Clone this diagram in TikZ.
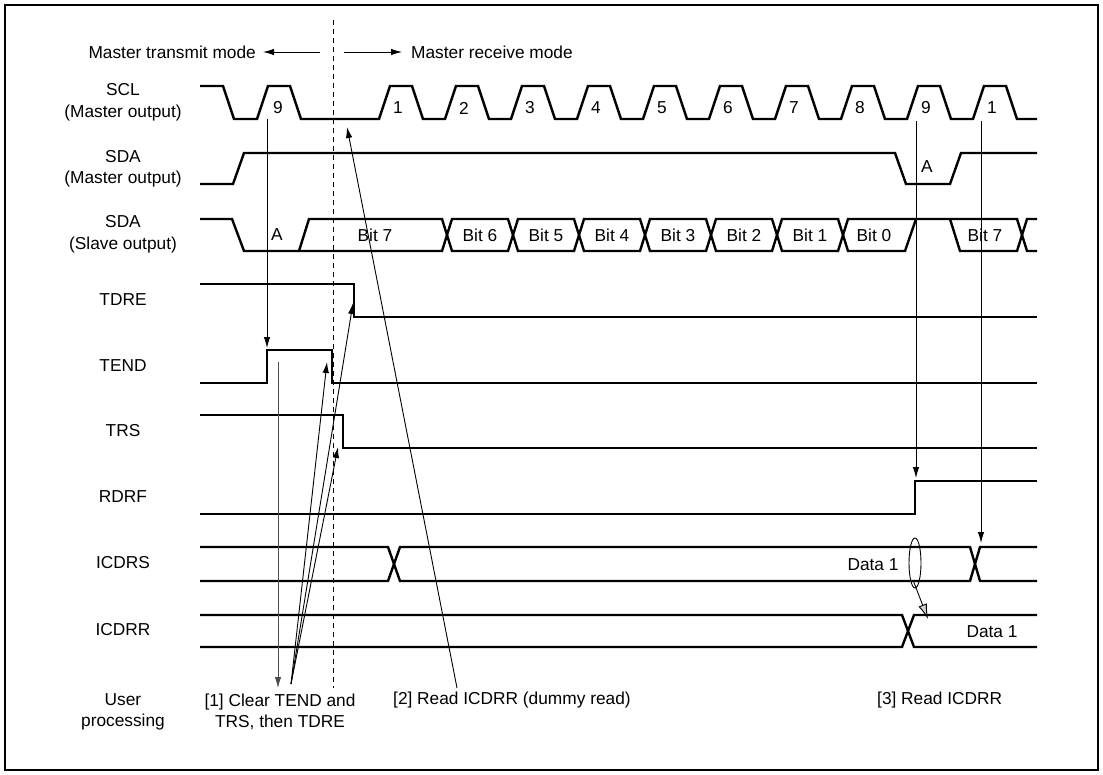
\documentclass[tikz,border=0pt]{standalone}
\usepackage{fontspec}
\setmainfont{Liberation Sans}
\usetikzlibrary{arrows.meta}
\begin{document}
\begin{tikzpicture}[x=1pt,y=-1pt,
  sig/.style={line width=2.4pt,line join=miter,line cap=butt},
  thinl/.style={line width=0.9pt},
  arr/.style={thinl,-{Latex[length=11pt,width=6.5pt]}},
  garr/.style={thinl,-{Latex[length=15pt,width=9pt,fill=gray!35]}},
  lbl/.style={font=\fontsize{17.3}{21.5}\selectfont,align=center,inner sep=0pt},
  ]
\useasboundingbox (0,0) rectangle (1103,774);
\draw[line width=1.5pt] (5,5) rectangle (1098,770);

% header
\node[lbl,anchor=east] (tm) at (256,52) {Master transmit mode};
\node[lbl,anchor=west] (rm) at (411,52) {Master receive mode};
\coordinate (ta1) at (320,52); \coordinate (ta2) at (263,52);
\coordinate (ra1) at (344,52); \coordinate (ra2) at (402,52);
\draw[arr] (ta1) -- (ta2);
\draw[arr] (ra1) -- (ra2);
\coordinate (d1) at (333,20); \coordinate (d2) at (333,688);
\draw[thinl,dash pattern=on 5pt off 4pt] (d1) -- (d2);

% left labels
\node[lbl] (lscl) at (123,102.5) {SCL\\(Master output)};
\node[lbl] (lsdam) at (123,169) {SDA\\(Master output)};
\node[lbl] (lsdas) at (123,234.5) {SDA\\(Slave output)};
\node[lbl] (ltdre) at (123,300) {TDRE};
\node[lbl] (ltend) at (123,366) {TEND};
\node[lbl] (ltrs) at (123,431) {TRS};
\node[lbl] (lrdrf) at (123,497) {RDRF};
\node[lbl] (licdrs) at (123,563) {ICDRS};
\node[lbl] (licdrr) at (123,630) {ICDRR};
\node[lbl] (luser) at (123,712) {User\\processing};

% SCL
\draw[sig] (200,86) -- (223,86) -- (234,119) -- (257,119) -- (268,86) -- (290,86) -- (301,119) -- (379,119)
  \foreach \k in {0,...,8} { -- ++(11,-33) -- ++(22,0) -- ++(11,33) -- ++(22,0) }
  -- ++(11,-33) -- ++(22,0) -- ++(11,33) -- (1037,119);
\node[lbl] (n0) at (278,108) {9};
\foreach \t [count=\i from 0] in {1,2,3,4,5,6,7,8,9,1} {
  \node[lbl] (n\i x) at ({398+66*\i},108) {\t};
}

% SDA master
\draw[sig] (200,184) -- (233,184) -- (244,153) -- (895,153) -- (906,184) -- (950,184) -- (961,153) -- (1037,153);
\node[lbl] (am) at (927,167) {A};

% SDA slave
\draw[sig] (200,219) -- (232,219) -- (244,251) -- (442,251) -- (452,219) -- (508,219) -- (518,251) -- (574,251)
  -- (584,219) -- (640,219) -- (650,251) -- (706,251) -- (716,219) -- (772,219) -- (782,251) -- (838,251)
  -- (848,219) -- (1017,219) -- (1027,251) -- (1037,251);
\draw[sig] (299,251) -- (309,219) -- (442,219) -- (452,251) -- (508,251) -- (518,219) -- (574,219) -- (584,251)
  -- (640,251) -- (650,219) -- (706,219) -- (716,251) -- (772,251) -- (782,219) -- (838,219) -- (848,251)
  -- (905,251) -- (916,219);
\draw[sig] (950,219) -- (960,251) -- (1017,251) -- (1027,219) -- (1037,219);
\node[lbl] (as) at (277,235) {A};
\node[lbl] (b7) at (375,235) {Bit 7};
\node[lbl] (b6) at (480,235) {Bit 6};
\node[lbl] (b5) at (546,235) {Bit 5};
\node[lbl] (b4) at (612,235) {Bit 4};
\node[lbl] (b3) at (678,235) {Bit 3};
\node[lbl] (b2) at (744,235) {Bit 2};
\node[lbl] (b1) at (810,235) {Bit 1};
\node[lbl] (b0) at (874,235) {Bit 0};
\node[lbl] (b7b) at (985,235) {Bit 7};

% TDRE, TEND, TRS, RDRF
\draw[sig] (200,284) -- (354,284) -- (354,317) -- (1037,317);
\draw[sig] (200,383) -- (267,383) -- (267,350) -- (332,350) -- (332,383) -- (1037,383);
\draw[sig] (200,415) -- (343,415) -- (343,448) -- (1037,448);
\draw[sig] (200,514) -- (915,514) -- (915,481) -- (1037,481);

% ICDRS
\draw[sig] (200,547) -- (388,547) -- (400,581) -- (970,581) -- (980,547) -- (1037,547);
\draw[sig] (200,581) -- (388,581) -- (400,547) -- (970,547) -- (980,581) -- (1037,581);
\node[lbl] (d1s) at (873,565) {Data 1};
% ICDRR
\draw[sig] (200,615) -- (902,615) -- (914,647) -- (1037,647);
\draw[sig] (200,647) -- (902,647) -- (914,615) -- (1037,615);
\node[lbl] (d1r) at (992,632) {Data 1};

% bottom texts
\node[lbl] (u1) at (280,712) {[1] Clear TEND and\\TRS, then TDRE};
\node[lbl,anchor=west] (u2) at (393,700) {[2] Read ICDRR (dummy read)};
\node[lbl,anchor=west] (u3) at (877,700) {[3] Read ICDRR};

% arrows
\coordinate (a9) at (267,119); \coordinate (tendr) at (267,348);
\draw[arr] (a9) -- (tendr);
\coordinate (tendh) at (278,362); \coordinate (u1t) at (278,688);
\draw[arr,draw=black!70] (tendh) -- (u1t);
\coordinate (fan) at (291,684);
\coordinate (tendf) at (327,362);
\coordinate (trsf) at (338,447);
\coordinate (tdref) at (353,303);
\draw[arr] (fan) -- (tendf);
\draw[arr] (fan) -- (trsf);
\draw[arr] (fan) -- (tdref);
\coordinate (u2t) at (457,688); \coordinate (sclr) at (347,127);
\draw[arr] (u2t) -- (sclr);
\coordinate (s9) at (916,121); \coordinate (rdrfr) at (916,478);
\draw[arr] (s9) -- (rdrfr);
\coordinate (s1) at (981,121); \coordinate (icx) at (981,543);
\draw[arr] (s1) -- (icx);

% loop transfer
\coordinate (lc) at (915,563);
\draw[thinl] (lc) ellipse [x radius=6, y radius=25];
\coordinate (lb) at (913,580); \coordinate (lt) at (928,619);
\draw[garr] (lb) -- (lt);
\end{tikzpicture}
\end{document}
